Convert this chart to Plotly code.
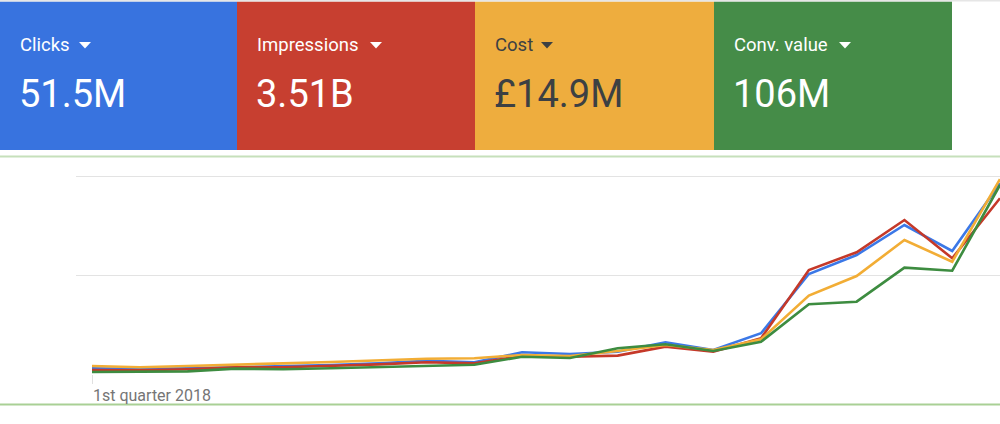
import plotly.graph_objects as go

W, H = 1000, 424

quarters = [f"{q} quarter {y}" for y in range(2018, 2023) for q in ["1st", "2nd", "3rd", "4th"]]

clicks = [5.8, 5.1, 5.8, 6.8, 7.4, 9.1, 10.8, 13.5, 11.9, 22.0,
          20.3, 22.6, 32.1, 24.3, 41.3, 101.4, 120.6, 151.0, 124.7, 193.3]
impressions = [4.1, 3.8, 4.8, 6.8, 6.8, 8.1, 9.8, 11.9, 10.8, 18.2,
               17.5, 18.6, 27.7, 22.6, 36.2, 105.4, 123.4, 156.1, 117.3, 178.1]
cost = [8.1, 6.8, 8.1, 9.8, 10.8, 12.2, 13.9, 15.5, 15.9, 19.3,
        18.2, 23.3, 29.4, 24.3, 35.2, 79.4, 99.3, 135.8, 113.8, 197.4]
conv_value = [2.0, 2.0, 2.7, 5.4, 4.8, 5.8, 7.1, 7.8, 9.4, 17.5,
              16.2, 26.1, 30.1, 23.3, 32.7, 70.7, 73.3, 107.8, 104.7, 191.6]

card_labels = ["Clicks", "Impressions", "Cost", "Conv. value"]
card_values = ["51.5M", "3.51B", "£14.9M", "106M"]
card_colors = ["#3873df", "#c73f30", "#eead3e", "#458c48"]
card_text = ["white", "white", "#3c4043", "white"]
line_colors = ["#3b78e7", "#c53929", "#f2ad35", "#3d8c40"]


def px(x):
    return x / W


def py(y):
    return 1 - y / H


xs = list(range(len(quarters)))
fig = go.Figure()
for name, vals, col in zip(card_labels, [clicks, impressions, cost, conv_value], line_colors):
    fig.add_trace(go.Scatter(x=xs, y=vals, name=name, mode="lines",
                             line=dict(color=col, width=2.6), hovertext=quarters))

shapes = []
annotations = []
edges = [0, 237, 475, 714, 952]
for i in range(4):
    x0, x1 = edges[i], edges[i + 1]
    shapes.append(dict(type="rect", xref="paper", yref="paper",
                       x0=px(x0), x1=px(x1), y0=py(150), y1=py(1.5),
                       fillcolor=card_colors[i], line=dict(width=0), layer="below"))
    annotations.append(dict(xref="paper", yref="paper", x=px(x0 + 18), y=py(45),
                            xanchor="left", yanchor="middle", showarrow=False,
                            text=card_labels[i],
                            font=dict(family="Roboto", size=18.5, color=card_text[i])))
    annotations.append(dict(xref="paper", yref="paper", x=px(x0 + 17), y=py(94),
                            xanchor="left", yanchor="middle", showarrow=False,
                            text=card_values[i],
                            font=dict(family="Roboto", size=38, color=card_text[i])))

# dropdown arrows after each label
arrow_x = [79, 370, 541, 839]
for i, ax in enumerate(arrow_x):
    path = f"M {px(ax)} {py(42)} L {px(ax + 12)} {py(42)} L {px(ax + 6)} {py(48.5)} Z"
    shapes.append(dict(type="path", xref="paper", yref="paper", path=path,
                       fillcolor=card_text[i], line=dict(width=0)))

# thin frame lines
shapes.append(dict(type="line", xref="paper", yref="paper", x0=0, x1=1,
                   y0=py(0.7), y1=py(0.7), line=dict(color="#e6e6e6", width=1.5)))
shapes.append(dict(type="line", xref="paper", yref="paper", x0=0, x1=1,
                   y0=py(156.5), y1=py(156.5), line=dict(color="#c6e0bb", width=1.8)))
shapes.append(dict(type="line", xref="paper", yref="paper", x0=0, x1=1,
                   y0=py(404.5), y1=py(404.5), line=dict(color="#a9d095", width=1.8)))

annotations.append(dict(xref="paper", yref="paper", x=px(91), y=py(395),
                        xanchor="left", yanchor="middle", showarrow=False,
                        text=quarters[0],
                        font=dict(family="Roboto", size=16, color="#757575")))

fig.update_layout(
    width=W, height=H,
    margin=dict(l=0, r=0, t=0, b=0),
    paper_bgcolor="white", plot_bgcolor="white",
    showlegend=False,
    shapes=shapes, annotations=annotations,
    xaxis=dict(domain=[px(76), 1.0], range=[-16 / 47.79, 19.0],
               showgrid=False, zeroline=False, showline=False,
               tickvals=[0], ticks="outside", ticklen=9, tickcolor="#e0e0e0",
               tickwidth=1, showticklabels=False),
    yaxis=dict(domain=[py(374), py(160)], range=[0, 216.9],
               dtick=100, gridcolor="#e3e3e3", gridwidth=1.2,
               zeroline=False, showline=False, showticklabels=False, ticks=""),
)

# page has a default 8px body margin; drop it so the figure fills the window
fig.write_html("out.html", config={"displayModeBar": False},
               post_script="document.body.style.margin='0';document.body.style.overflow='hidden';")
